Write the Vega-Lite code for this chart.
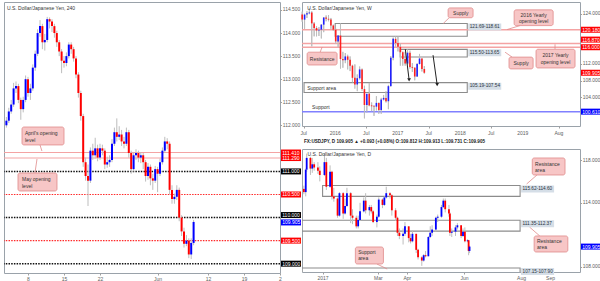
{
"$schema":"https://vega.github.io/schema/vega-lite/v6.json",
"background":"#ffffff",
"padding":{"left":2,"top":1,"right":0,"bottom":0},
"bounds":"flush",
"spacing":22,
"config":{
 "view":{"stroke":"#9aa2aa","strokeWidth":1},
 "font":"Liberation Sans",
 "axis":{"labelFont":"Liberation Sans","labelFontSize":5,"labelColor":"#606060","tickColor":"#a0a0a0","tickSize":2,"domain":false,"grid":false,"labelPadding":1.2,"labelOverlap":false,"labelFlush":false,"labelSeparation":0},
 "axisY":{"tickSize":1.5,"labelPadding":0.8,"labelFontSize":4.9},
 "title":{"font":"Liberation Sans","anchor":"start"}
},
"datasets":{
 "c240":[
{"i":1,"o":112.00,"h":112.18,"l":111.95,"c":112.10},{"i":2,"o":112.10,"h":112.38,"l":112.05,"c":112.30},{"i":3,"o":112.30,"h":112.55,"l":112.25,"c":112.45},{"i":4,"o":112.45,"h":112.92,"l":112.40,"c":112.80},{"i":5,"o":112.80,"h":112.95,"l":112.70,"c":112.85},{"i":6,"o":112.85,"h":112.90,"l":112.48,"c":112.55},{"i":7,"o":112.55,"h":112.60,"l":112.12,"c":112.35},{"i":8,"o":112.35,"h":112.62,"l":112.28,"c":112.55},{"i":9,"o":112.55,"h":113.08,"l":112.50,"c":113.00},{"i":10,"o":113.00,"h":113.05,"l":112.62,"c":112.70},
{"i":11,"o":112.70,"h":112.90,"l":112.55,"c":112.80},{"i":12,"o":112.80,"h":113.32,"l":112.75,"c":113.25},{"i":13,"o":113.25,"h":113.62,"l":113.18,"c":113.55},{"i":14,"o":113.55,"h":114.08,"l":113.50,"c":114.00},{"i":15,"o":114.00,"h":114.28,"l":113.92,"c":114.15},{"i":16,"o":114.15,"h":114.20,"l":113.65,"c":113.80},{"i":17,"o":113.80,"h":113.98,"l":113.62,"c":113.85},{"i":18,"o":113.85,"h":114.35,"l":113.80,"c":114.30},{"i":19,"o":114.30,"h":114.34,"l":114.10,"c":114.25},{"i":20,"o":114.25,"h":114.30,"l":114.02,"c":114.15},
{"i":21,"o":114.15,"h":114.20,"l":113.90,"c":114.00},{"i":22,"o":114.00,"h":114.05,"l":113.70,"c":113.80},{"i":23,"o":113.80,"h":113.85,"l":113.50,"c":113.60},{"i":24,"o":113.60,"h":113.65,"l":113.13,"c":113.40},{"i":25,"o":113.40,"h":113.50,"l":113.25,"c":113.35},{"i":26,"o":113.35,"h":113.58,"l":113.28,"c":113.50},{"i":27,"o":113.50,"h":113.80,"l":113.45,"c":113.75},{"i":28,"o":113.75,"h":113.80,"l":113.55,"c":113.65},{"i":29,"o":113.65,"h":113.70,"l":113.38,"c":113.45},{"i":30,"o":113.45,"h":113.50,"l":113.02,"c":113.10},
{"i":31,"o":113.10,"h":113.15,"l":112.60,"c":112.70},{"i":32,"o":112.70,"h":112.75,"l":112.10,"c":112.20},{"i":33,"o":112.20,"h":112.25,"l":111.10,"c":111.20},{"i":34,"o":111.20,"h":111.30,"l":110.80,"c":110.90},{"i":35,"o":110.90,"h":111.15,"l":110.25,"c":110.80},{"i":36,"o":110.80,"h":111.52,"l":110.75,"c":111.45},{"i":37,"o":111.45,"h":111.60,"l":111.25,"c":111.35},{"i":38,"o":111.35,"h":111.73,"l":111.28,"c":111.50},{"i":39,"o":111.50,"h":111.58,"l":111.22,"c":111.30},{"i":40,"o":111.30,"h":111.60,"l":111.25,"c":111.50},
{"i":41,"o":111.50,"h":111.58,"l":111.35,"c":111.45},{"i":42,"o":111.45,"h":111.50,"l":111.05,"c":111.15},{"i":43,"o":111.15,"h":111.32,"l":111.08,"c":111.20},{"i":44,"o":111.20,"h":111.35,"l":111.10,"c":111.25},{"i":45,"o":111.25,"h":111.70,"l":111.20,"c":111.60},{"i":46,"o":111.60,"h":111.95,"l":111.55,"c":111.85},{"i":47,"o":111.85,"h":112.15,"l":111.65,"c":111.75},{"i":48,"o":111.75,"h":111.98,"l":111.68,"c":111.80},{"i":49,"o":111.80,"h":111.90,"l":111.55,"c":111.65},{"i":50,"o":111.65,"h":111.75,"l":111.50,"c":111.60},
{"i":51,"o":111.60,"h":111.95,"l":111.55,"c":111.85},{"i":52,"o":111.85,"h":111.90,"l":111.30,"c":111.40},{"i":53,"o":111.40,"h":111.45,"l":110.95,"c":111.05},{"i":54,"o":111.05,"h":111.42,"l":111.00,"c":111.35},{"i":55,"o":111.35,"h":111.48,"l":111.25,"c":111.40},{"i":56,"o":111.40,"h":111.45,"l":111.20,"c":111.30},{"i":57,"o":111.30,"h":111.42,"l":111.18,"c":111.35},{"i":58,"o":111.35,"h":111.40,"l":111.05,"c":111.20},{"i":59,"o":111.20,"h":111.25,"l":110.78,"c":110.90},{"i":60,"o":110.90,"h":111.18,"l":110.82,"c":111.10},
{"i":61,"o":111.10,"h":111.15,"l":110.70,"c":110.85},{"i":62,"o":110.85,"h":110.95,"l":110.60,"c":110.80},{"i":63,"o":110.80,"h":111.12,"l":110.75,"c":111.05},{"i":64,"o":111.05,"h":111.10,"l":110.55,"c":110.95},{"i":65,"o":110.95,"h":111.28,"l":110.90,"c":111.20},{"i":66,"o":111.20,"h":111.52,"l":111.15,"c":111.45},{"i":67,"o":111.45,"h":111.75,"l":111.40,"c":111.65},{"i":68,"o":111.65,"h":111.72,"l":111.48,"c":111.60},{"i":69,"o":111.60,"h":111.65,"l":110.50,"c":110.60},{"i":70,"o":110.60,"h":110.70,"l":110.30,"c":110.40},
{"i":71,"o":110.40,"h":110.52,"l":110.30,"c":110.45},{"i":72,"o":110.45,"h":110.70,"l":110.38,"c":110.60},{"i":73,"o":110.60,"h":110.65,"l":109.92,"c":110.00},{"i":74,"o":110.00,"h":110.05,"l":109.60,"c":109.70},{"i":75,"o":109.70,"h":109.78,"l":109.35,"c":109.43},{"i":76,"o":109.43,"h":109.62,"l":109.38,"c":109.50},{"i":77,"o":109.50,"h":109.55,"l":109.12,"c":109.20},{"i":78,"o":109.20,"h":109.55,"l":109.10,"c":109.45},{"i":79,"o":109.45,"h":109.95,"l":109.40,"c":109.905}
 ],
 "lv240":[{"v":111.41,"k":"open"},{"v":111.29,"k":"open"},{"v":111,"k":"whole"},{"v":110.5,"k":"half"},{"v":110,"k":"whole"},{"v":109.5,"k":"half"},{"v":109,"k":"whole"}],
 "lb240":[{"v":111.41,"t":"111.410","k":"r"},{"v":111.29,"t":"111.290","k":"r"},{"v":111,"t":"111.000","k":"k"},{"v":110.5,"t":"110.500","k":"r"},{"v":110,"t":"110.000","k":"k"},{"v":109.5,"t":"109.500","k":"r"},{"v":109,"t":"109.000","k":"k"},{"v":109.905,"t":"109.905","k":"b"}],
 "co240":[{"x1":7.5,"x2":25,"y1":111.963,"y2":111.574},{"x1":5.83,"x2":22.08,"y1":110.966,"y2":110.576}],
 "cp240":[{"x1":15,"x2":15.8,"y1":111.574,"y2":111.443},{"x1":12.9,"x2":13.75,"y1":110.966,"y2":111.27}],
 "ct240":[{"x":8.75,"y":111.833,"t":"April's opening"},{"x":8.75,"y":111.68,"t":"level"},{"x":7.5,"y":110.836,"t":"May opening"},{"x":7.5,"y":110.684,"t":"level"},{"x":1.25,"y":114.54,"t":"U.S. Dollar/Japanese Yen, 240"}],
 "cW":[
{"d":"2015-06-22","o":123.8,"h":124.5,"l":122.1,"c":122.6},{"d":"2015-07-06","o":122.6,"h":124.0,"l":120.4,"c":123.8},{"d":"2015-07-20","o":123.8,"h":124.6,"l":123.0,"c":124.1},{"d":"2015-08-03","o":124.1,"h":125.3,"l":123.9,"c":124.3},{"d":"2015-08-17","o":124.3,"h":124.6,"l":116.2,"c":121.7},{"d":"2015-08-31","o":121.7,"h":122.0,"l":118.6,"c":120.6},{"d":"2015-09-14","o":120.6,"h":121.0,"l":118.6,"c":120.0},{"d":"2015-09-28","o":120.0,"h":120.8,"l":118.7,"c":120.2},{"d":"2015-10-12","o":120.2,"h":121.5,"l":118.1,"c":121.4},{"d":"2015-10-26","o":121.4,"h":123.2,"l":119.6,"c":123.1},
{"d":"2015-11-09","o":123.1,"h":123.6,"l":122.2,"c":122.8},{"d":"2015-11-23","o":122.8,"h":123.7,"l":122.2,"c":122.6},{"d":"2015-12-07","o":122.6,"h":123.0,"l":120.4,"c":121.2},{"d":"2015-12-21","o":121.2,"h":121.4,"l":119.9,"c":120.2},{"d":"2016-01-04","o":120.2,"h":120.5,"l":116.8,"c":117.4},{"d":"2016-01-18","o":117.4,"h":118.9,"l":115.9,"c":118.8},{"d":"2016-02-01","o":118.8,"h":121.7,"l":110.9,"c":113.2},{"d":"2016-02-15","o":113.2,"h":114.9,"l":111.1,"c":112.9},{"d":"2016-02-29","o":112.9,"h":114.6,"l":112.2,"c":113.8},{"d":"2016-03-14","o":113.8,"h":114.2,"l":110.7,"c":113.0},
{"d":"2016-03-28","o":113.0,"h":113.8,"l":110.3,"c":111.6},{"d":"2016-04-11","o":111.6,"h":111.8,"l":107.6,"c":108.7},{"d":"2016-04-25","o":108.7,"h":111.9,"l":106.1,"c":107.1},{"d":"2016-05-09","o":107.1,"h":109.5,"l":105.5,"c":108.6},{"d":"2016-05-23","o":108.6,"h":111.4,"l":108.3,"c":110.7},{"d":"2016-06-06","o":110.7,"h":110.9,"l":105.6,"c":106.0},{"d":"2016-06-20","o":106.0,"h":106.8,"l":99.0,"c":102.2},{"d":"2016-07-04","o":102.2,"h":103.0,"l":100.4,"c":104.9},{"d":"2016-07-18","o":104.9,"h":107.5,"l":101.9,"c":102.1},{"d":"2016-08-01","o":102.1,"h":102.8,"l":100.7,"c":101.9},
{"d":"2016-08-15","o":101.9,"h":102.2,"l":99.6,"c":101.8},{"d":"2016-08-29","o":101.8,"h":104.3,"l":100.9,"c":102.7},{"d":"2016-09-12","o":102.7,"h":102.8,"l":100.1,"c":101.0},{"d":"2016-09-26","o":101.0,"h":103.9,"l":100.1,"c":103.5},{"d":"2016-10-10","o":103.5,"h":104.6,"l":103.3,"c":103.9},{"d":"2016-10-24","o":103.9,"h":105.5,"l":102.8,"c":103.1},{"d":"2016-11-07","o":103.1,"h":107.0,"l":101.2,"c":106.7},{"d":"2016-11-21","o":106.7,"h":113.9,"l":106.6,"c":113.5},{"d":"2016-12-05","o":113.5,"h":118.3,"l":112.9,"c":118.0},{"d":"2016-12-19","o":118.0,"h":118.6,"l":116.1,"c":117.0},
{"d":"2017-01-02","o":117.0,"h":118.6,"l":115.0,"c":116.1},{"d":"2017-01-16","o":116.1,"h":116.9,"l":111.6,"c":114.8},{"d":"2017-01-30","o":114.8,"h":115.0,"l":111.6,"c":113.2},{"d":"2017-02-13","o":113.2,"h":114.9,"l":111.6,"c":112.1},{"d":"2017-02-27","o":112.1,"h":115.5,"l":111.7,"c":114.7},{"d":"2017-03-13","o":114.7,"h":115.2,"l":110.9,"c":111.3},{"d":"2017-03-27","o":111.3,"h":112.2,"l":110.1,"c":111.1},{"d":"2017-04-10","o":111.1,"h":111.2,"l":108.1,"c":109.0},{"d":"2017-04-24","o":109.0,"h":112.2,"l":108.9,"c":112.0},{"d":"2017-05-08","o":112.0,"h":114.4,"l":111.9,"c":113.3},
{"d":"2017-05-22","o":113.3,"h":113.3,"l":110.2,"c":110.8},{"d":"2017-06-05","o":110.8,"h":111.5,"l":109.7,"c":109.905}
 ],
 "axW":[{"d":"2015-07-01","t":"Jul"},{"d":"2016-01-01","t":"2016"},{"d":"2016-07-01","t":"Jul"},{"d":"2017-01-01","t":"2017"},{"d":"2017-07-01","t":"Jul"},{"d":"2018-01-01","t":"2018"},{"d":"2018-07-01","t":"Jul"},{"d":"2019-01-01","t":"2019"},{"d":"2019-08-01","t":"Aug"}],
 "zW":[{"d1":"2016-01-01","d2":"2018-02-11","lo":118.61,"hi":121.69,"t":"121.69-118.61"},{"d1":"2017-01-15","d2":"2018-02-11","lo":113.65,"hi":115.5,"t":"115.50-113.65"},{"d1":"2015-07-03","d2":"2018-02-11","lo":105.19,"hi":107.54,"t":"105.19-107.54"}],
 "lvW":[{"v":120.18,"k":"open"},{"v":116.87,"k":"open"},{"v":116,"k":"open"},{"v":100.61,"k":"sup"}],
 "lbW":[{"v":120.18,"t":"120.180","k":"r"},{"v":116.87,"t":"116.870","k":"r"},{"v":116,"t":"116.000","k":"r"},{"v":109.905,"t":"109.905","k":"r"},{"v":100.61,"t":"100.610","k":"b"}],
 "coW":[{"d1":"2015-07-21","d2":"2016-01-12","y1":114.82,"y2":111.76},{"d1":"2017-10-22","d2":"2018-03-17","y1":125.4,"y2":123.05},{"d1":"2018-10-13","d2":"2019-03-03","y1":113.64,"y2":110.82},{"d1":"2018-11-12","d2":"2019-06-28","y1":124.93,"y2":121.17},{"d1":"2019-03-20","d2":"2019-11-03","y1":115.52,"y2":111.05}],
 "cpW":[{"d1":"2015-10-05","d2":"2015-10-17","y1":114.82,"y2":116.06},{"d1":"2017-10-28","d2":"2017-09-23","y1":123.05,"y2":121.64},{"d1":"2018-10-31","d2":"2018-09-20","y1":113.64,"y2":114.82},{"d1":"2018-12-16","d2":"2018-10-02","y1":121.17,"y2":120.23},{"d1":"2019-07-09","d2":"2019-07-09","y1":115.52,"y2":116.7}],
 "ctW":[{"d":"2015-10-17","y":113.29,"t":"Resistance"},{"d":"2018-01-04","y":124.23,"t":"Supply"},{"d":"2018-12-23","y":112.23,"t":"Supply"},{"d":"2019-03-06","y":123.76,"t":"2016 Yearly"},{"d":"2019-03-06","y":122.23,"t":"opening level"},{"d":"2019-07-12","y":114.11,"t":"2017 Yearly"},{"d":"2019-07-12","y":112.58,"t":"opening level"}],
 "ptW":[{"d":"2015-07-21","y":106.35,"t":"Support area"},{"d":"2015-08-19","y":101.65,"t":"Support"},{"d":"2015-07-21","y":125.4,"t":"U.S. Dollar/Japanese Yen, W"}],
 "arW":[{"d1":"2017-02-14","d2":"2017-03-08","y1":115.52,"y2":108.23},{"d1":"2017-07-26","d2":"2017-08-19","y1":114.11,"y2":107.05}],
 "cD":[
{"d":"2016-12-12","o":115.3,"h":115.6,"l":114.8,"c":115.0},{"d":"2016-12-14","o":115.0,"h":117.2,"l":114.6,"c":117.1},{"d":"2016-12-15","o":117.1,"h":118.6,"l":116.9,"c":118.2},{"d":"2016-12-19","o":118.2,"h":118.3,"l":116.6,"c":117.2},{"d":"2016-12-21","o":117.2,"h":118.2,"l":116.8,"c":117.6},{"d":"2016-12-23","o":117.6,"h":117.8,"l":117.0,"c":117.3},{"d":"2016-12-27","o":117.3,"h":117.8,"l":116.7,"c":117.0},{"d":"2016-12-29","o":117.0,"h":117.4,"l":116.0,"c":116.6},{"d":"2017-01-03","o":116.6,"h":118.6,"l":116.5,"c":117.8},{"d":"2017-01-05","o":117.8,"h":118.2,"l":115.2,"c":115.5},
{"d":"2017-01-09","o":115.5,"h":117.5,"l":115.4,"c":116.9},{"d":"2017-01-11","o":116.9,"h":117.0,"l":114.3,"c":114.6},{"d":"2017-01-13","o":114.6,"h":115.4,"l":114.1,"c":114.4},{"d":"2017-01-17","o":114.4,"h":114.5,"l":112.6,"c":112.8},{"d":"2017-01-19","o":112.8,"h":115.0,"l":112.7,"c":114.9},{"d":"2017-01-23","o":114.9,"h":115.0,"l":112.5,"c":113.0},{"d":"2017-01-25","o":113.0,"h":114.4,"l":112.9,"c":113.7},{"d":"2017-01-27","o":113.7,"h":115.4,"l":113.6,"c":114.9},{"d":"2017-01-31","o":114.9,"h":115.0,"l":112.1,"c":112.8},{"d":"2017-02-02","o":112.8,"h":113.4,"l":112.0,"c":112.6},
{"d":"2017-02-06","o":112.6,"h":112.8,"l":111.6,"c":111.8},{"d":"2017-02-08","o":111.8,"h":112.8,"l":111.6,"c":112.4},{"d":"2017-02-10","o":112.4,"h":114.0,"l":112.3,"c":113.2},{"d":"2017-02-14","o":113.2,"h":114.5,"l":113.1,"c":114.2},{"d":"2017-02-16","o":114.2,"h":114.9,"l":113.0,"c":113.3},{"d":"2017-02-20","o":113.3,"h":113.8,"l":112.8,"c":113.6},{"d":"2017-02-22","o":113.6,"h":113.8,"l":113.0,"c":113.2},{"d":"2017-02-24","o":113.2,"h":113.3,"l":112.1,"c":112.2},{"d":"2017-02-28","o":112.2,"h":112.9,"l":111.7,"c":112.7},{"d":"2017-03-02","o":112.7,"h":114.5,"l":112.6,"c":114.3},
{"d":"2017-03-06","o":114.3,"h":114.4,"l":113.5,"c":113.8},{"d":"2017-03-08","o":113.8,"h":114.6,"l":113.7,"c":114.5},{"d":"2017-03-10","o":114.5,"h":115.5,"l":114.4,"c":114.9},{"d":"2017-03-14","o":114.9,"h":115.0,"l":114.4,"c":114.7},{"d":"2017-03-16","o":114.7,"h":114.8,"l":112.8,"c":113.3},{"d":"2017-03-20","o":113.3,"h":113.5,"l":112.3,"c":112.6},{"d":"2017-03-22","o":112.6,"h":112.7,"l":110.9,"c":111.2},{"d":"2017-03-24","o":111.2,"h":111.6,"l":110.6,"c":110.9},{"d":"2017-03-28","o":110.9,"h":111.6,"l":110.1,"c":111.1},{"d":"2017-03-30","o":111.1,"h":112.2,"l":110.9,"c":111.8},
{"d":"2017-04-03","o":111.8,"h":111.8,"l":110.3,"c":110.7},{"d":"2017-04-05","o":110.7,"h":111.1,"l":110.2,"c":110.4},{"d":"2017-04-07","o":110.4,"h":111.4,"l":110.3,"c":111.1},{"d":"2017-04-11","o":111.1,"h":111.1,"l":109.3,"c":109.6},{"d":"2017-04-13","o":109.6,"h":109.7,"l":108.7,"c":108.9},{"d":"2017-04-17","o":108.9,"h":109.0,"l":108.1,"c":108.6},{"d":"2017-04-19","o":108.6,"h":109.2,"l":108.5,"c":109.1},{"d":"2017-04-21","o":109.1,"h":109.5,"l":108.9,"c":109.0},{"d":"2017-04-24","o":109.0,"h":110.9,"l":109.0,"c":110.8},{"d":"2017-04-26","o":110.8,"h":111.8,"l":110.7,"c":111.2},
{"d":"2017-04-28","o":111.2,"h":111.9,"l":110.9,"c":111.5},{"d":"2017-05-02","o":111.5,"h":112.7,"l":111.3,"c":112.6},{"d":"2017-05-04","o":112.6,"h":112.9,"l":112.2,"c":112.7},{"d":"2017-05-08","o":112.7,"h":113.8,"l":112.6,"c":113.6},{"d":"2017-05-10","o":113.6,"h":114.4,"l":113.5,"c":114.2},{"d":"2017-05-12","o":114.2,"h":114.4,"l":113.1,"c":113.4},{"d":"2017-05-16","o":113.4,"h":113.8,"l":112.7,"c":113.0},{"d":"2017-05-17","o":113.0,"h":113.1,"l":110.9,"c":111.2},{"d":"2017-05-19","o":111.2,"h":111.6,"l":110.8,"c":111.3},{"d":"2017-05-23","o":111.3,"h":111.9,"l":110.9,"c":111.7},
{"d":"2017-05-25","o":111.7,"h":112.1,"l":111.5,"c":111.9},{"d":"2017-05-29","o":111.9,"h":111.9,"l":110.7,"c":110.9},{"d":"2017-05-31","o":110.9,"h":111.6,"l":110.8,"c":111.3},{"d":"2017-06-02","o":111.3,"h":111.7,"l":110.3,"c":110.4},{"d":"2017-06-05","o":110.4,"h":110.6,"l":110.3,"c":110.5},{"d":"2017-06-06","o":110.5,"h":110.5,"l":109.1,"c":109.5},{"d":"2017-06-07","o":109.5,"h":110.0,"l":109.3,"c":109.905}
 ],
 "zD":[{"d1":"2017-01-01","d2":"2017-07-31","lo":114.6,"hi":115.62,"t":"115.62-114.60"},{"d1":"2016-12-10","d2":"2017-07-31","lo":111.35,"hi":112.37,"t":"111.35-112.37"},{"d1":"2016-12-10","d2":"2017-07-31","lo":107.15,"hi":107.9,"t":"107.15-107.90"}],
 "lbD":[{"v":109.905,"t":"109.905","k":"b"}],
 "coD":[{"d1":"2017-08-13","d2":"2017-09-17","y1":118.19,"y2":116.6},{"d1":"2017-08-15","d2":"2017-09-20","y1":110.9,"y2":109.4},{"d1":"2017-02-05","d2":"2017-03-07","y1":109.87,"y2":108.28}],
 "cpD":[{"d1":"2017-08-18","d2":"2017-08-07","y1":116.6,"y2":115.76},{"d1":"2017-08-21","d2":"2017-08-10","y1":110.9,"y2":111.74},{"d1":"2017-02-28","d2":"2017-03-11","y1":108.28,"y2":107.81}],
 "ctD":[{"d":"2017-08-16","y":117.63,"t":"Resistance"},{"d":"2017-08-16","y":117.07,"t":"area"},{"d":"2017-08-18","y":110.43,"t":"Resistance"},{"d":"2017-08-18","y":109.87,"t":"area"},{"d":"2017-02-08","y":109.4,"t":"Support"},{"d":"2017-02-08","y":108.84,"t":"area"},{"d":"2016-12-16","y":118.56,"t":"U.S. Dollar/Japanese Yen, D"}]
},
"hconcat":[
{
 "width":276,"height":271,
 "layer":[
  {"data":{"name":"lv240"},"mark":{"type":"rule"},
   "encoding":{"y":{"field":"v","type":"quantitative","scale":{"domain":[108.798,114.673],"nice":false,"zero":false},"axis":{"orient":"right","values":[112,112.5,113,113.5,114,114.5],"format":".3f","title":null}},
    "color":{"condition":[{"test":"datum.k=='open'","value":"#f4a3a3"},{"test":"datum.k=='half'","value":"#ff2a2a"}],"value":"#111111"},
    "strokeDash":{"condition":{"test":"datum.k=='open'","value":[1,0]},"value":[1.5,1.2]},
    "strokeWidth":{"condition":{"test":"datum.k=='whole'","value":1.4},"value":1.1}}},
  {"data":{"name":"c240"},"mark":{"type":"rule","color":"#bdbdbd","strokeWidth":1},
   "encoding":{"x":{"field":"i","type":"quantitative","scale":{"domain":[0,115],"nice":false,"zero":false},"axis":{"values":[10,25,40,64,85,100,115],"title":null,"labelOverlap":false,"labelExpr":"datum.value==10?'8':datum.value==25?'15':datum.value==40?'22':datum.value==64?'Jun':datum.value==85?'12':datum.value==100?'19':'2'"}},
    "y":{"field":"l","type":"quantitative","scale":{"domain":[108.798,114.673],"nice":false,"zero":false}},"y2":{"field":"h"}}},
  {"data":{"name":"c240"},"mark":{"type":"rule","strokeWidth":2},
   "encoding":{"x":{"field":"i","type":"quantitative","scale":{"domain":[0,115],"nice":false,"zero":false}},
    "y":{"field":"o","type":"quantitative","scale":{"domain":[108.798,114.673],"nice":false,"zero":false}},"y2":{"field":"c"},
    "color":{"condition":{"test":"datum.c>=datum.o","value":"#0000ff"},"value":"#ff0000"}}},
  {"data":{"name":"cp240"},"mark":{"type":"rule","color":"#e08a8a","strokeWidth":0.8},
   "encoding":{"x":{"field":"x1","type":"quantitative","scale":{"domain":[0,115],"nice":false,"zero":false}},"x2":{"field":"x2"},
    "y":{"field":"y1","type":"quantitative","scale":{"domain":[108.798,114.673],"nice":false,"zero":false}},"y2":{"field":"y2"}}},
  {"data":{"name":"co240"},"mark":{"type":"rect","fill":"#f7c6c6","stroke":"#e08a8a","strokeWidth":0.8,"cornerRadius":2},
   "encoding":{"x":{"field":"x1","type":"quantitative","scale":{"domain":[0,115],"nice":false,"zero":false}},"x2":{"field":"x2"},
    "y":{"field":"y1","type":"quantitative","scale":{"domain":[108.798,114.673],"nice":false,"zero":false}},"y2":{"field":"y2"}}},
  {"data":{"name":"ct240"},"mark":{"type":"text","align":"left","baseline":"middle","fontSize":5,"color":"#333333"},
   "encoding":{"x":{"field":"x","type":"quantitative","scale":{"domain":[0,115],"nice":false,"zero":false}},
    "y":{"field":"y","type":"quantitative","scale":{"domain":[108.798,114.673],"nice":false,"zero":false}},"text":{"field":"t"}}},
  {"data":{"name":"lb240"},"transform":[{"filter":"datum.t!='110.000' && datum.t!='109.905'"}],"mark":{"type":"point","shape":"M0.1,-0.3H2.1V0.3H0.1Z","size":400,"filled":true,"opacity":1,"strokeWidth":0},
   "encoding":{"x":{"datum":115,"type":"quantitative","scale":{"domain":[0,115],"nice":false,"zero":false}},
    "y":{"field":"v","type":"quantitative","scale":{"domain":[108.798,114.673],"nice":false,"zero":false}},
    "color":{"condition":{"test":"datum.k=='k'","value":"#000000"},"value":"#ff0000"}}},
  {"data":{"name":"lb240"},"transform":[{"filter":"datum.t!='110.000' && datum.t!='109.905'"}],"mark":{"type":"text","align":"left","baseline":"middle","fontSize":5,"dx":2.2,"color":"#ffffff"},
   "encoding":{"x":{"datum":115,"type":"quantitative","scale":{"domain":[0,115],"nice":false,"zero":false}},
    "y":{"field":"v","type":"quantitative","scale":{"domain":[108.798,114.673],"nice":false,"zero":false}},"text":{"field":"t"}}},
  {"data":{"name":"lb240"},"transform":[{"filter":"datum.t=='110.000'"}],"mark":{"type":"point","shape":"M0.1,-0.55H2.1V0.05H0.1Z","size":400,"filled":true,"opacity":1,"strokeWidth":0,"color":"#000000"},
   "encoding":{"x":{"datum":115,"type":"quantitative","scale":{"domain":[0,115],"nice":false,"zero":false}},
    "y":{"field":"v","type":"quantitative","scale":{"domain":[108.798,114.673],"nice":false,"zero":false}}}},
  {"data":{"name":"lb240"},"transform":[{"filter":"datum.t=='110.000'"}],"mark":{"type":"text","align":"left","baseline":"middle","fontSize":5,"dx":2.2,"dy":-2.5,"color":"#ffffff"},
   "encoding":{"x":{"datum":115,"type":"quantitative","scale":{"domain":[0,115],"nice":false,"zero":false}},
    "y":{"field":"v","type":"quantitative","scale":{"domain":[108.798,114.673],"nice":false,"zero":false}},"text":{"field":"t"}}},
  {"data":{"name":"lb240"},"transform":[{"filter":"datum.t=='109.905'"}],"mark":{"type":"point","shape":"M0.1,-0.25H2.1V0.35H0.1Z","size":400,"filled":true,"opacity":1,"strokeWidth":0,"color":"#0000ff"},
   "encoding":{"x":{"datum":115,"type":"quantitative","scale":{"domain":[0,115],"nice":false,"zero":false}},
    "y":{"field":"v","type":"quantitative","scale":{"domain":[108.798,114.673],"nice":false,"zero":false}}}},
  {"data":{"name":"lb240"},"transform":[{"filter":"datum.t=='109.905'"}],"mark":{"type":"text","align":"left","baseline":"middle","fontSize":5,"dx":2.2,"dy":0.5,"color":"#ffffff"},
   "encoding":{"x":{"datum":115,"type":"quantitative","scale":{"domain":[0,115],"nice":false,"zero":false}},
    "y":{"field":"v","type":"quantitative","scale":{"domain":[108.798,114.673],"nice":false,"zero":false}},"text":{"field":"t"}}}
 ]
},
{
 "bounds":"flush",
 "spacing":23,
 "vconcat":[
 {
  "width":278,"height":124,
  "layer":[
   {"data":{"name":"cW"},"mark":{"type":"rule","color":"#bdbdbd","strokeWidth":1},
    "encoding":{"x":{"field":"d","type":"temporal","scale":{"domain":[{"year":2015,"month":6,"date":21},{"year":2019,"month":12,"date":2}],"nice":false},
      "axis":{"values":[{"year":2015,"month":7,"date":1},{"year":2016,"month":1,"date":1},{"year":2016,"month":7,"date":1},{"year":2017,"month":1,"date":1},{"year":2017,"month":7,"date":1},{"year":2018,"month":1,"date":1},{"year":2018,"month":7,"date":1},{"year":2019,"month":1,"date":1},{"year":2019,"month":8,"date":1}],"title":null,"labels":false}},
     "y":{"field":"l","type":"quantitative","scale":{"domain":[97.18,126.81],"nice":false,"zero":false},"axis":{"orient":"right","values":[104,108,112,124],"format":".3f","title":null}},"y2":{"field":"h"}}},
   {"data":{"name":"axW"},"mark":{"type":"text","align":"center","baseline":"middle","fontSize":5,"dy":6.5,"color":"#606060"},
    "encoding":{"x":{"field":"d","type":"temporal","scale":{"domain":[{"year":2015,"month":6,"date":21},{"year":2019,"month":12,"date":2}],"nice":false}},
     "y":{"datum":97.18,"type":"quantitative","scale":{"domain":[97.18,126.81],"nice":false,"zero":false}},"text":{"field":"t"}}},
   {"data":{"name":"zW"},"mark":{"type":"rect","fill":"#ffffff","fillOpacity":0.4,"stroke":"#8c8c8c","strokeWidth":1.1,"clip":true},
    "encoding":{"x":{"field":"d1","type":"temporal","scale":{"domain":[{"year":2015,"month":6,"date":21},{"year":2019,"month":12,"date":2}],"nice":false}},
     "x2":{"field":"d2"},
     "y":{"field":"lo","type":"quantitative","scale":{"domain":[97.18,126.81],"nice":false,"zero":false}},"y2":{"field":"hi"}}},
   {"data":{"name":"lvW"},"mark":{"type":"rule","strokeWidth":1.5},
    "encoding":{"y":{"field":"v","type":"quantitative","scale":{"domain":[97.18,126.81],"nice":false,"zero":false}},
     "color":{"condition":{"test":"datum.k=='sup'","value":"#8080ff"},"value":"#f4a3a3"}}},
   {"data":{"name":"cW"},"mark":{"type":"rule","color":"#bdbdbd","strokeWidth":1},
    "encoding":{"x":{"field":"d","type":"temporal","scale":{"domain":[{"year":2015,"month":6,"date":21},{"year":2019,"month":12,"date":2}],"nice":false}},
     "y":{"field":"l","type":"quantitative","scale":{"domain":[97.18,126.81],"nice":false,"zero":false}},"y2":{"field":"h"}}},
   {"data":{"name":"cW"},"mark":{"type":"rule","strokeWidth":1.6},
    "encoding":{"x":{"field":"d","type":"temporal","scale":{"domain":[{"year":2015,"month":6,"date":21},{"year":2019,"month":12,"date":2}],"nice":false}},
     "y":{"field":"o","type":"quantitative","scale":{"domain":[97.18,126.81],"nice":false,"zero":false}},"y2":{"field":"c"},
     "color":{"condition":{"test":"datum.c>=datum.o","value":"#2020ff"},"value":"#ff2020"}}},
   {"data":{"name":"arW"},"mark":{"type":"rule","color":"#222222","strokeWidth":1},
    "encoding":{"x":{"field":"d1","type":"temporal","scale":{"domain":[{"year":2015,"month":6,"date":21},{"year":2019,"month":12,"date":2}],"nice":false}},"x2":{"field":"d2"},
     "y":{"field":"y1","type":"quantitative","scale":{"domain":[97.18,126.81],"nice":false,"zero":false}},"y2":{"field":"y2"}}},
   {"data":{"name":"arW"},"mark":{"type":"point","shape":"triangle-down","size":14,"filled":true,"color":"#222222","opacity":1},
    "encoding":{"x":{"field":"d2","type":"temporal","scale":{"domain":[{"year":2015,"month":6,"date":21},{"year":2019,"month":12,"date":2}],"nice":false}},
     "y":{"field":"y2","type":"quantitative","scale":{"domain":[97.18,126.81],"nice":false,"zero":false}}}},
   {"data":{"name":"cpW"},"mark":{"type":"rule","color":"#e08a8a","strokeWidth":0.8},
    "encoding":{"x":{"field":"d1","type":"temporal","scale":{"domain":[{"year":2015,"month":6,"date":21},{"year":2019,"month":12,"date":2}],"nice":false}},"x2":{"field":"d2"},
     "y":{"field":"y1","type":"quantitative","scale":{"domain":[97.18,126.81],"nice":false,"zero":false}},"y2":{"field":"y2"}}},
   {"data":{"name":"coW"},"mark":{"type":"rect","fill":"#f7c6c6","stroke":"#e08a8a","strokeWidth":0.8,"cornerRadius":2},
    "encoding":{"x":{"field":"d1","type":"temporal","scale":{"domain":[{"year":2015,"month":6,"date":21},{"year":2019,"month":12,"date":2}],"nice":false}},"x2":{"field":"d2"},
     "y":{"field":"y1","type":"quantitative","scale":{"domain":[97.18,126.81],"nice":false,"zero":false}},"y2":{"field":"y2"}}},
   {"data":{"name":"ctW"},"mark":{"type":"text","align":"center","baseline":"middle","fontSize":5,"color":"#333333"},
    "encoding":{"x":{"field":"d","type":"temporal","scale":{"domain":[{"year":2015,"month":6,"date":21},{"year":2019,"month":12,"date":2}],"nice":false}},
     "y":{"field":"y","type":"quantitative","scale":{"domain":[97.18,126.81],"nice":false,"zero":false}},"text":{"field":"t"}}},
   {"data":{"name":"ptW"},"mark":{"type":"text","align":"left","baseline":"middle","fontSize":5,"color":"#333333"},
    "encoding":{"x":{"field":"d","type":"temporal","scale":{"domain":[{"year":2015,"month":6,"date":21},{"year":2019,"month":12,"date":2}],"nice":false}},
     "y":{"field":"y","type":"quantitative","scale":{"domain":[97.18,126.81],"nice":false,"zero":false}},"text":{"field":"t"}}},
   {"data":{"name":"zW"},"mark":{"type":"point","shape":"M0.1,0H3.4V0.7H0.1Z","size":400,"filled":true,"opacity":1,"strokeWidth":0,"color":"#d5dee7"},
    "encoding":{"x":{"field":"d2","type":"temporal","scale":{"domain":[{"year":2015,"month":6,"date":21},{"year":2019,"month":12,"date":2}],"nice":false}},
     "y":{"field":"hi","type":"quantitative","scale":{"domain":[97.18,126.81],"nice":false,"zero":false}}}},
   {"data":{"name":"zW"},"mark":{"type":"text","align":"left","baseline":"middle","fontSize":4.7,"dx":2.5,"dy":3.5,"color":"#2a3440"},
    "encoding":{"x":{"field":"d2","type":"temporal","scale":{"domain":[{"year":2015,"month":6,"date":21},{"year":2019,"month":12,"date":2}],"nice":false}},
     "y":{"field":"hi","type":"quantitative","scale":{"domain":[97.18,126.81],"nice":false,"zero":false}},"text":{"field":"t"}}},
   {"data":{"name":"lbW"},"transform":[{"filter":"datum.t!='116.870'"}],"mark":{"type":"point","shape":"M0.1,-0.3H2.1V0.3H0.1Z","size":400,"filled":true,"opacity":1,"strokeWidth":0},
    "encoding":{"x":{"datum":{"year":2019,"month":12,"date":2},"type":"temporal","scale":{"domain":[{"year":2015,"month":6,"date":21},{"year":2019,"month":12,"date":2}],"nice":false}},
     "y":{"field":"v","type":"quantitative","scale":{"domain":[97.18,126.81],"nice":false,"zero":false}},
     "color":{"condition":{"test":"datum.k=='b'","value":"#0000ff"},"value":"#ff0000"}}},
   {"data":{"name":"lbW"},"transform":[{"filter":"datum.t=='116.870'"}],"mark":{"type":"point","shape":"M0.1,-0.7H2.1V-0.1H0.1Z","size":400,"filled":true,"opacity":1,"strokeWidth":0,"color":"#ff0000"},
    "encoding":{"x":{"datum":{"year":2019,"month":12,"date":2},"type":"temporal","scale":{"domain":[{"year":2015,"month":6,"date":21},{"year":2019,"month":12,"date":2}],"nice":false}},
     "y":{"field":"v","type":"quantitative","scale":{"domain":[97.18,126.81],"nice":false,"zero":false}}}},
   {"data":{"name":"lbW"},"transform":[{"filter":"datum.t!='116.870'"}],"mark":{"type":"text","align":"left","baseline":"middle","fontSize":5,"dx":2.2,"color":"#ffffff"},
    "encoding":{"x":{"datum":{"year":2019,"month":12,"date":2},"type":"temporal","scale":{"domain":[{"year":2015,"month":6,"date":21},{"year":2019,"month":12,"date":2}],"nice":false}},
     "y":{"field":"v","type":"quantitative","scale":{"domain":[97.18,126.81],"nice":false,"zero":false}},"text":{"field":"t"}}},
   {"data":{"name":"lbW"},"transform":[{"filter":"datum.t=='116.870'"}],"mark":{"type":"text","align":"left","baseline":"middle","fontSize":5,"dx":2.2,"dy":-4,"color":"#ffffff"},
    "encoding":{"x":{"datum":{"year":2019,"month":12,"date":2},"type":"temporal","scale":{"domain":[{"year":2015,"month":6,"date":21},{"year":2019,"month":12,"date":2}],"nice":false}},
     "y":{"field":"v","type":"quantitative","scale":{"domain":[97.18,126.81],"nice":false,"zero":false}},"text":{"field":"t"}}}
  ]
 },
 {
  "width":278,"height":123,
  "title":{"text":"FX:USDJPY, D  109.905 \u25b2 +0.093 (+0.08%)  O:109.812  H:109.913  L:109.731  C:109.905","fontSize":4.6,"fontWeight":"bold","color":"#222222","anchor":"start","offset":5,"dx":2},
  "layer":[
   {"data":{"name":"zD"},"mark":{"type":"rect","fill":"#ffffff","fillOpacity":0.4,"stroke":"#8c8c8c","strokeWidth":1.1,"clip":true},
    "encoding":{"x":{"field":"d1","type":"temporal","scale":{"domain":[{"year":2016,"month":12,"date":10},{"year":2017,"month":10,"date":3}],"nice":false},
      "axis":{"values":[{"year":2017,"month":1,"date":1},{"year":2017,"month":3,"date":1},{"year":2017,"month":4,"date":1},{"year":2017,"month":6,"date":1},{"year":2017,"month":8,"date":1},{"year":2017,"month":9,"date":1}],"title":null,"labelOverlap":false,"labelSeparation":0,"labelExpr":"timeFormat(datum.value,'%m')=='01'?timeFormat(datum.value,'%Y'):timeFormat(datum.value,'%b')"}},
     "x2":{"field":"d2"},
     "y":{"field":"lo","type":"quantitative","scale":{"domain":[107.53,119.03],"nice":false,"zero":false},"axis":{"orient":"right","values":[108,112,114,116,118],"format":".3f","title":null}},"y2":{"field":"hi"}}},
   {"data":{"name":"cD"},"mark":{"type":"rule","color":"#bdbdbd","strokeWidth":1},
    "encoding":{"x":{"field":"d","type":"temporal","scale":{"domain":[{"year":2016,"month":12,"date":10},{"year":2017,"month":10,"date":3}],"nice":false}},
     "y":{"field":"l","type":"quantitative","scale":{"domain":[107.53,119.03],"nice":false,"zero":false}},"y2":{"field":"h"}}},
   {"data":{"name":"cD"},"mark":{"type":"rule","strokeWidth":1.8},
    "encoding":{"x":{"field":"d","type":"temporal","scale":{"domain":[{"year":2016,"month":12,"date":10},{"year":2017,"month":10,"date":3}],"nice":false}},
     "y":{"field":"o","type":"quantitative","scale":{"domain":[107.53,119.03],"nice":false,"zero":false}},"y2":{"field":"c"},
     "color":{"condition":{"test":"datum.c>=datum.o","value":"#0000ff"},"value":"#ff0000"}}},
   {"data":{"name":"cpD"},"mark":{"type":"rule","color":"#e08a8a","strokeWidth":0.8},
    "encoding":{"x":{"field":"d1","type":"temporal","scale":{"domain":[{"year":2016,"month":12,"date":10},{"year":2017,"month":10,"date":3}],"nice":false}},"x2":{"field":"d2"},
     "y":{"field":"y1","type":"quantitative","scale":{"domain":[107.53,119.03],"nice":false,"zero":false}},"y2":{"field":"y2"}}},
   {"data":{"name":"coD"},"mark":{"type":"rect","fill":"#f7c6c6","stroke":"#e08a8a","strokeWidth":0.8,"cornerRadius":2},
    "encoding":{"x":{"field":"d1","type":"temporal","scale":{"domain":[{"year":2016,"month":12,"date":10},{"year":2017,"month":10,"date":3}],"nice":false}},"x2":{"field":"d2"},
     "y":{"field":"y1","type":"quantitative","scale":{"domain":[107.53,119.03],"nice":false,"zero":false}},"y2":{"field":"y2"}}},
   {"data":{"name":"ctD"},"mark":{"type":"text","align":"left","baseline":"middle","fontSize":5,"color":"#333333"},
    "encoding":{"x":{"field":"d","type":"temporal","scale":{"domain":[{"year":2016,"month":12,"date":10},{"year":2017,"month":10,"date":3}],"nice":false}},
     "y":{"field":"y","type":"quantitative","scale":{"domain":[107.53,119.03],"nice":false,"zero":false}},"text":{"field":"t"}}},
   {"data":{"name":"zD"},"mark":{"type":"point","shape":"M0.1,0H3.4V0.7H0.1Z","size":400,"filled":true,"opacity":1,"strokeWidth":0,"color":"#d5dee7"},
    "encoding":{"x":{"field":"d2","type":"temporal","scale":{"domain":[{"year":2016,"month":12,"date":10},{"year":2017,"month":10,"date":3}],"nice":false}},
     "y":{"field":"hi","type":"quantitative","scale":{"domain":[107.53,119.03],"nice":false,"zero":false}}}},
   {"data":{"name":"zD"},"mark":{"type":"text","align":"left","baseline":"middle","fontSize":4.7,"dx":2.5,"dy":3.5,"color":"#2a3440"},
    "encoding":{"x":{"field":"d2","type":"temporal","scale":{"domain":[{"year":2016,"month":12,"date":10},{"year":2017,"month":10,"date":3}],"nice":false}},
     "y":{"field":"hi","type":"quantitative","scale":{"domain":[107.53,119.03],"nice":false,"zero":false}},"text":{"field":"t"}}},
   {"data":{"name":"lbD"},"mark":{"type":"point","shape":"M0.1,-0.3H2.1V0.3H0.1Z","size":400,"filled":true,"opacity":1,"strokeWidth":0,"color":"#0000ff"},
    "encoding":{"x":{"datum":{"year":2017,"month":10,"date":3},"type":"temporal","scale":{"domain":[{"year":2016,"month":12,"date":10},{"year":2017,"month":10,"date":3}],"nice":false}},
     "y":{"field":"v","type":"quantitative","scale":{"domain":[107.53,119.03],"nice":false,"zero":false}}}},
   {"data":{"name":"lbD"},"mark":{"type":"text","align":"left","baseline":"middle","fontSize":5,"dx":2.2,"color":"#ffffff"},
    "encoding":{"x":{"datum":{"year":2017,"month":10,"date":3},"type":"temporal","scale":{"domain":[{"year":2016,"month":12,"date":10},{"year":2017,"month":10,"date":3}],"nice":false}},
     "y":{"field":"v","type":"quantitative","scale":{"domain":[107.53,119.03],"nice":false,"zero":false}},"text":{"field":"t"}}}
  ]
 }
 ]
}
]
}
